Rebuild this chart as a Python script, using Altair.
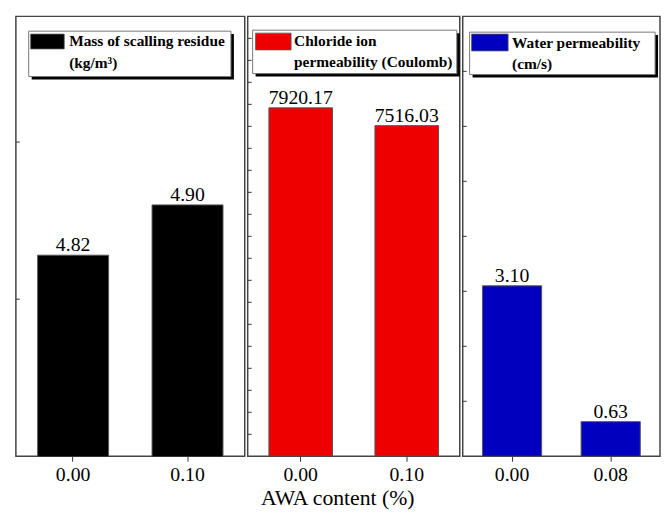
import altair as alt
import pandas as pd

# ---- data ----
categories_1 = ["0.00", "0.10"]
values_1 = [4.82, 4.90]
categories_2 = ["0.00", "0.10"]
values_2 = [7920.17, 7516.03]
categories_3 = ["0.00", "0.08"]
values_3 = [3.10, 0.63]

series_names = [
    "Mass of scalling residue\n(kg/m³)",
    "Chloride ion\npermeability (Coulomb)",
    "Water permeability\n(cm/s)",
]
series_colors = ["#000000", "#EE0000", "#0000BE"]
y_domains = [[4.5, 5.2], [0, 10000], [0, 8]]
y_ticks_1 = [4.75, 5.0]
y_ticks_2 = [500, 1000, 1500, 2000, 2500, 3000, 3500, 4000, 4500, 5000,
             5500, 6000, 6500, 7000, 7500, 8000, 8500, 9000, 9500]
y_ticks_3 = [1, 2, 3, 4, 5, 6, 7]
x_title = "AWA content (%)"

FONT = "Liberation Serif"
H = 446

layouts = [
    dict(w=232, pi=0.38, box=(13, 218, 15, 61), sw=(15, 49, 18, 33), tx=54, ty=18, lh=22),
    dict(w=215, pi=0.40, box=(5, 212, 14, 58), sw=(8, 44, 17, 34), tx=47, ty=18, lh=21),
    dict(w=200, pi=0.40, box=(7, 195, 16, 59), sw=(9, 46, 18, 35), tx=50, ty=20, lh=21),
]


def panel(cats, vals, ticks, name, color, domain, lay):
    df = pd.DataFrame({"cat": cats, "v": vals})
    tdf = pd.DataFrame({"t": ticks})
    ldf = pd.DataFrame({"name": [name]})

    xaxis = alt.Axis(
        title=None, labelAngle=0, labelFont=FONT, labelFontSize=20,
        labelColor="#000", tickColor="#333", tickSize=5, domain=False,
        labelPadding=4,
    )
    xscale = alt.Scale(paddingInner=lay["pi"], paddingOuter=lay["pi"] / 2)
    yscale = alt.Scale(domain=domain, zero=False, nice=False)

    bars = alt.Chart(df).mark_bar(
        color=color, stroke="#555", strokeWidth=1, clip=True
    ).encode(
        x=alt.X("cat:N", sort=None, scale=xscale, axis=xaxis),
        y=alt.Y("v:Q", scale=yscale, axis=None),
    )
    texts = alt.Chart(df).mark_text(
        font=FONT, fontSize=20, color="#000", baseline="alphabetic", dy=-4
    ).encode(
        x=alt.X("cat:N", sort=None, scale=xscale, axis=xaxis),
        y=alt.Y("v:Q", scale=yscale, axis=None),
        text=alt.Text("v:Q", format=".2f"),
    )
    yticks = alt.Chart(tdf).mark_rule(color="#333", strokeWidth=1).encode(
        y=alt.Y("t:Q", scale=yscale, axis=None),
        x=alt.value(0),
        x2=alt.value(4),
    )

    bx0, bx1, by0, by1 = lay["box"]
    shadow = alt.Chart(ldf).mark_rect(color="#000").encode(
        x=alt.value(bx0 + 3), x2=alt.value(bx1 + 3),
        y=alt.value(by0 + 3), y2=alt.value(by1 + 3),
    )
    box = alt.Chart(ldf).mark_rect(fill="#fff", stroke="#777", strokeWidth=1).encode(
        x=alt.value(bx0), x2=alt.value(bx1),
        y=alt.value(by0), y2=alt.value(by1),
    )
    sx0, sx1, sy0, sy1 = lay["sw"]
    swatch = alt.Chart(ldf).mark_rect(fill=color, stroke="#555", strokeWidth=0.8).encode(
        x=alt.value(sx0), x2=alt.value(sx1),
        y=alt.value(sy0), y2=alt.value(sy1),
    )
    label = alt.Chart(ldf).mark_text(
        font=FONT, fontSize=15.6, fontWeight="bold", color="#000",
        align="left", baseline="top", lineBreak="\n", lineHeight=lay["lh"],
    ).encode(
        x=alt.value(lay["tx"]),
        y=alt.value(lay["ty"]),
        text="name:N",
    )

    return alt.layer(bars, texts, yticks, shadow, box, swatch, label).properties(
        width=lay["w"], height=H
    )


p1 = panel(categories_1, values_1, y_ticks_1, series_names[0], series_colors[0], y_domains[0], layouts[0])
p2 = panel(categories_2, values_2, y_ticks_2, series_names[1], series_colors[1], y_domains[1], layouts[1])
p3 = panel(categories_3, values_3, y_ticks_3, series_names[2], series_colors[2], y_domains[2], layouts[2])

chart = alt.hconcat(p1, p2, p3, spacing=0).properties(
    title=alt.TitleParams(
        text=x_title, orient="bottom", anchor="middle", font=FONT,
        fontSize=22, fontWeight="normal", color="#000", offset=3,
    ),
    padding={"left": 6, "top": 4, "right": 0, "bottom": 0},
    background="#ffffff",
).configure_view(
    stroke="#444", strokeWidth=1.5
)

chart.save("out.html", embed_options={"renderer": "svg", "actions": False})
